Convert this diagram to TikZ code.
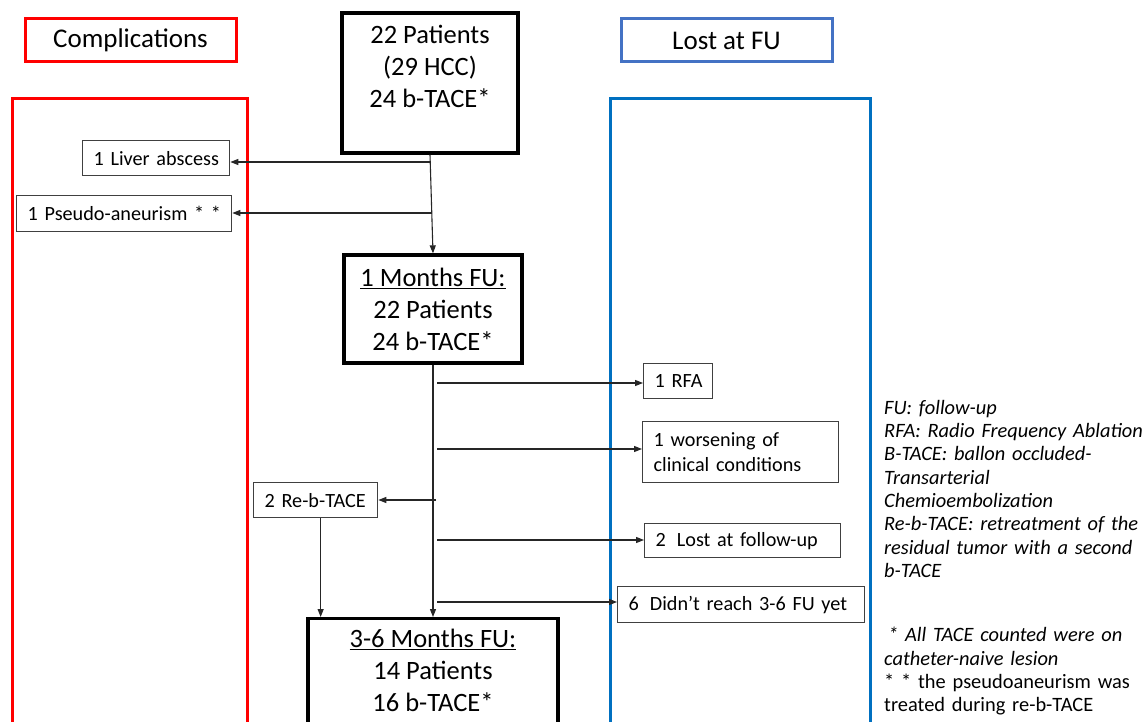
\documentclass[tikz,border=0pt]{standalone}
\usepackage{fontspec}
\setmainfont{Carlito}
\usetikzlibrary{arrows.meta}
\definecolor{cred}{RGB}{255,0,0}
\definecolor{lfu}{RGB}{68,114,196}
\definecolor{bigblue}{RGB}{0,112,192}
\definecolor{sgray}{RGB}{64,64,64}
\begin{document}
\begin{tikzpicture}[x=1pt,y=-1pt,
  hdr/.style={draw, line width=3pt, minimum width=211pt, minimum height=43pt, inner sep=0pt, font=\fontsize{27}{32}\selectfont},
  column/.style={draw, line width=3pt, minimum height=720pt, inner sep=0pt, anchor=north west},
  mainbox/.style={draw=black, line width=3.2pt, inner sep=0pt},
  maintext/.style={align=center, inner sep=0pt, font=\fontsize{26.5}{32}\selectfont},
  sbox/.style={draw=sgray, line width=1.3pt, anchor=north west, align=left, inner xsep=11pt, inner ysep=0pt, font=\fontsize{20.2}{25}\selectfont},
  conn/.style={draw=black!85, line width=1.1pt, -{Triangle[length=8pt,width=6pt]}},
  legend/.style={anchor=north west, inner sep=0pt, align=left, text width=262pt, font=\fontsize{20.4}{23.3}\selectfont\itshape}
]
\fill[white] (0,0) rectangle (1145,722);
\clip (0,0) rectangle (1145,722);

% headers and columns
\node[hdr, draw=cred] (comp) at (130.5,40.5) {Complications};
\node[hdr, draw=lfu] (lostfu) at (726.5,40.5) {Lost at FU};
\node[column, draw=cred, minimum width=235pt] (compcol) at (11,97) {};
\node[column, draw=bigblue, minimum width=260pt] (lostcol) at (609,97) {};

% main boxes
\node[mainbox, minimum width=176pt, minimum height=140pt] (start) at (430,83) {};
\node[maintext, anchor=north] (starttxt) at (430,25) {22 Patients\\(29 HCC)\\24 b-TACE*};

\node[mainbox, maintext, draw=black, line width=3.2pt, minimum width=178pt, minimum height=108pt] (m1) at (433,309)
  {\underline{1 Months FU:}\\22 Patients\\24 b-TACE*};

\node[mainbox, minimum width=250pt, minimum height=160pt, anchor=north] (m36) at (433,617) {};
\node[maintext, anchor=north] (m36txt) at (433,629) {\underline{3-6 Months FU:}\\14 Patients\\16 b-TACE*};

% small boxes
\node[sbox, text width=125pt, minimum height=35pt] (liver) at (82,140) {\mbox{1 Liver abscess}};
\node[sbox, text width=193pt, minimum height=36pt] (pseudo) at (16,195) {\mbox{1 Pseudo-aneurism * *}};
\node[sbox, text width=47pt, minimum height=35pt] (rfa) at (643,363) {\mbox{1 RFA}};
\node[sbox, text width=174pt, minimum height=61pt] (worse) at (642,421) {\mbox{1 worsening of}\\\mbox{clinical conditions}};
\node[sbox, text width=102pt, minimum height=35pt] (reb) at (253,482) {\mbox{2 Re-b-TACE}};
\node[sbox, text width=174pt, minimum height=34pt] (lost) at (644,523) {\mbox{2\hspace{11pt}Lost at follow-up}};
\node[sbox, text width=225pt, minimum height=36pt] (didnt) at (617,586) {\mbox{6\hspace{11pt}Didn’t reach 3-6 FU yet}};

% connectors
\coordinate (j1) at (431,162);
\coordinate (j2) at (431.5,213);
\coordinate (b1) at (437,383);
\coordinate (b2) at (437,449);
\coordinate (b3) at (436,500);
\coordinate (b4) at (437,540);
\coordinate (b5) at (437,602);

\draw[conn] (start.south) -- (m1.north);
\draw[conn] (j1) -- (j1 -| liver.east);
\draw[conn] (j2) -- (j2 -| pseudo.east);
\draw[conn] (m1.south) -- (m36.north);
\draw[conn] (b1) -- (b1 -| rfa.west);
\draw[conn] (b2) -- (b2 -| worse.west);
\draw[conn] (b3) -- (b3 -| reb.east);
\draw[conn] (b4) -- (b4 -| lost.west);
\draw[conn] (b5) -- (b5 -| didnt.west);
\draw[conn] ([xshift=5pt]reb.south) -- ([xshift=5pt]reb.south |- m36.north);

% legend
\node[legend] (leg) at (884,400) {FU: follow-up\\
RFA: Radio Frequency Ablation\\
B-TACE: ballon occluded-\\
Transarterial\\
Chemioembolization\\
Re-b-TACE: retreatment of the\\
residual tumor with a second\\
b-TACE\\[41pt]
\hspace*{4pt}* All TACE counted were on\\
catheter-naive lesion\\
\upshape * * the pseudoaneurism was\\
\upshape treated during re-b-TACE};
\end{tikzpicture}
\end{document}
